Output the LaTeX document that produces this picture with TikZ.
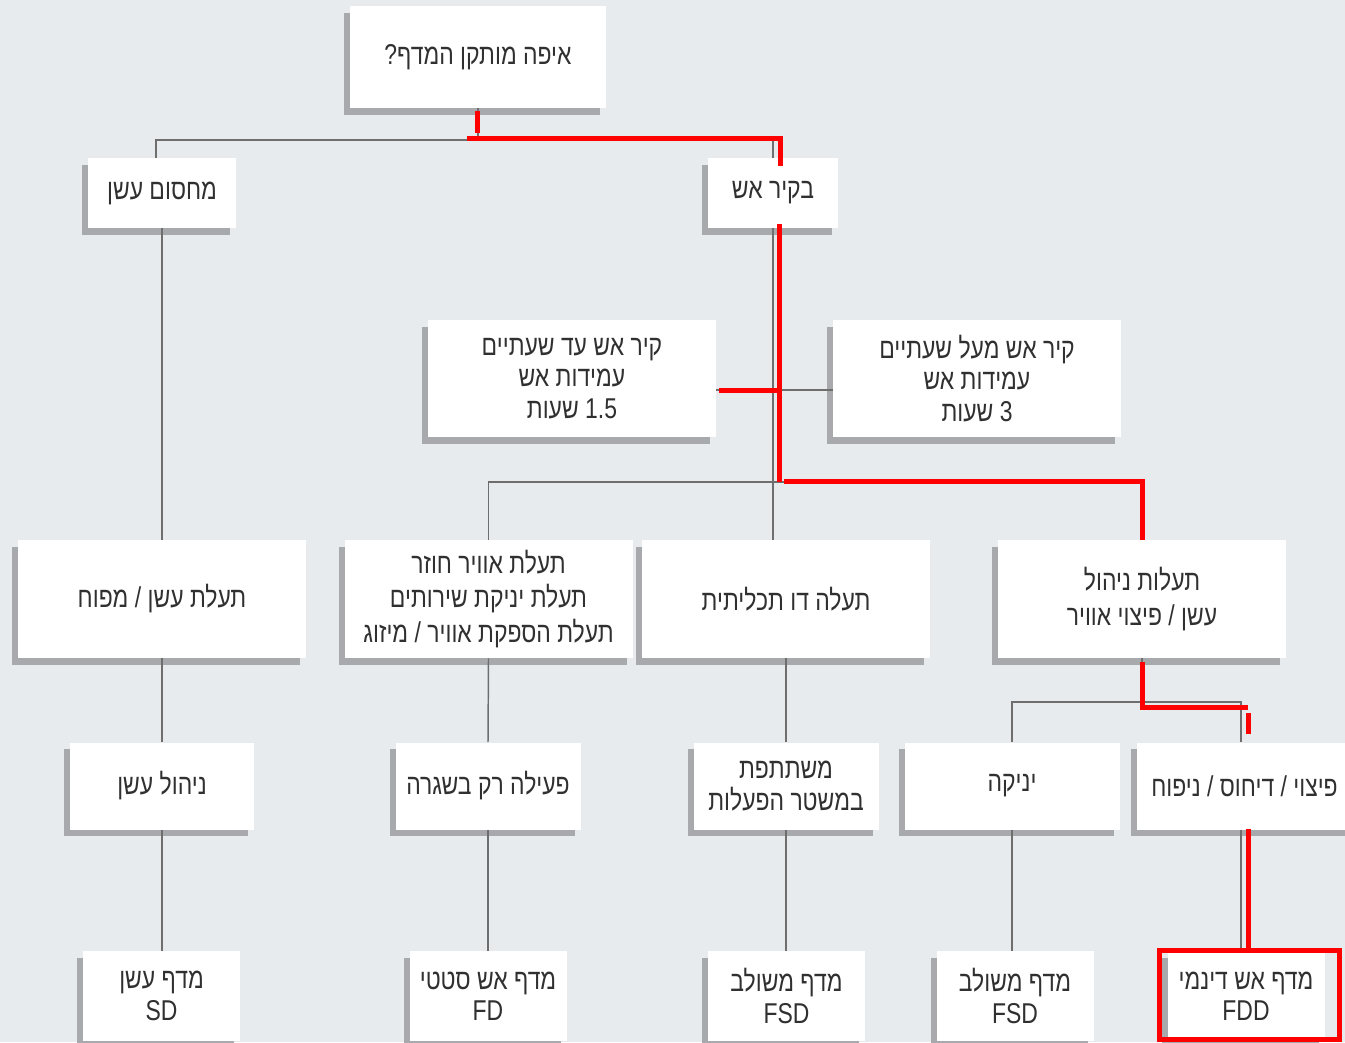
\documentclass[tikz,border=0pt]{standalone}
\usepackage{fontspec}
\usetikzlibrary{shadows}
\TeXXeTstate=1
\newfontfamily\heb[Script=Hebrew,FakeStretch=0.8]{Liberation Sans}
\newcommand\hl[1]{\beginR #1\endR}
\definecolor{bg}{HTML}{E8EBEE}
\definecolor{shd}{HTML}{A8A9AD}
\definecolor{txt}{HTML}{303030}
\definecolor{ln}{HTML}{6E6E6E}
\definecolor{hi}{HTML}{FF0000}
\begin{document}
\begin{tikzpicture}[x=0.75pt,y=-0.75pt,
  box/.style={fill=white, inner sep=0pt, align=center, text=txt,
    font=\heb\fontsize{21.5}{23.5}\selectfont,
    drop shadow={shadow xshift=-4.5pt, shadow yshift=-5pt, fill=shd, opacity=1}},
  conn/.style={draw=ln, line width=1.1pt},
  hilite/.style={draw=hi, line width=3.75pt}]
\useasboundingbox (0,0) rectangle (1345,1042);
\fill[bg] (0,0) rectangle (1345,1042);
\clip (0,0) rectangle (1345,1042);

% row 0
\node[box, minimum width=192pt, minimum height=76.5pt] (top) at (478,57) {\hl{איפה מותקן המדף?}};
% row 1
\node[box, minimum width=111pt, minimum height=52.5pt] (smk) at (162,193) {\hl{מחסום עשן}};
\node[box, minimum width=97.5pt, minimum height=52.5pt] (wall) at (773,193) {\hl{בקיר אש}};
% row 2
\node[box, minimum width=216pt, minimum height=87.75pt] (wlo) at (572,378.5)
  {\hl{קיר אש עד שעתיים}\\\hl{עמידות אש}\\\hl{1.5 שעות}};
\node[box, minimum width=216pt, minimum height=87.75pt] (whi) at (977,378.5)
  {\hl{קיר אש מעל שעתיים}\\\hl{עמידות אש}\\\hl{3 שעות}};
% row 3
\node[box, minimum width=216pt, minimum height=88.5pt] (d1) at (162,599) {\hl{תעלת עשן / מפוח}};
\node[box, minimum width=216pt, minimum height=88.5pt, font=\heb\fontsize{21.5}{26}\selectfont] (d2) at (488.5,599)
  {\hl{תעלת אוויר חוזר}\\\hl{תעלת יניקת שירותים}\\\hl{תעלת הספקת אוויר / מיזוג}};
\node[box, minimum width=216pt, minimum height=88.5pt] (d3) at (786,599) {\hl{תעלה דו תכליתית}};
\node[box, minimum width=216pt, minimum height=88.5pt, font=\heb\fontsize{21.5}{26}\selectfont] (d4) at (1142,599)
  {\hl{תעלות ניהול}\\\hl{עשן / פיצוי אוויר}};
% row 4
\node[box, minimum width=138pt, minimum height=65.25pt] (m1) at (162,786) {\hl{ניהול עשן}};
\node[box, minimum width=138.75pt, minimum height=65.25pt] (m2) at (488,786) {\hl{פעילה רק בשגרה}};
\node[box, minimum width=138.75pt, minimum height=65.25pt] (m3) at (786,786) {\hl{משתתפת}\\\hl{במשטר הפעלות}};
\node[box, minimum width=161.25pt, minimum height=65.25pt] (m4) at (1012,786) {\hl{יניקה}};
\node[box, minimum width=161.25pt, minimum height=65.25pt] (m5) at (1244.5,786) {\hl{פיצוי / דיחוס / ניפוח}};
% row 5
\node[box, minimum width=117.75pt, minimum height=67.5pt] (b1) at (161.5,996) {\hl{מדף עשן}\\SD};
\node[box, minimum width=117.75pt, minimum height=67.5pt] (b2) at (488,996) {\hl{מדף אש סטטי}\\FD};
\node[box, minimum width=117.75pt, minimum height=67.5pt] (b3) at (786.5,996) {\hl{מדף משולב}\\FSD};
\node[box, minimum width=117.75pt, minimum height=67.5pt] (b4) at (1015,996) {\hl{מדף משולב}\\FSD};
\node[box, minimum width=117.75pt, minimum height=67.5pt] (b5) at (1246,996) {\hl{מדף אש דינמי}\\FDD};

% connectors
\draw[conn] (top.south) -- (top.south |- 0,140);
\draw[conn] ([xshift=-4.5pt]smk.north) |- (wall.north |- 0,140) -- (wall.north);
\draw[conn] (smk.south) -- (d1.north);
\draw[conn] (wall.south) -- (wall.south |- d3.north);
\draw[conn] ([yshift=-8.6pt]wlo.east) -- ([yshift=-8.6pt]whi.west);
\draw[conn] (d2.north) |- (d4.north |- 0,482) -- (d4.north);
\draw[conn] (d1.south) -- (m1.north);
\draw[conn] (m1.south) -- (m1.south |- b1.north);
\draw[conn] (d2.south) -- (m2.north);
\draw[conn] (m2.south) -- (m2.south |- b2.north);
\draw[conn] (d3.south) -- (d3.south |- m3.north);
\draw[conn] (m3.south) -- (m3.south |- b3.north);
\draw[conn] (d4.south) -- (d4.south |- 0,702);
\draw[conn] (m4.north) |- ([xshift=-2.6pt]m5.north |- 0,702) -- ([xshift=-2.6pt]m5.north);
\draw[conn] (m4.south) -- (m4.south |- b4.north);
\draw[conn] ([xshift=-2.6pt]m5.south) -- ([xshift=-2.6pt]m5.south |- b5.north);

% red highlight
\draw[hilite] (477,111) -- (477,133);
\draw[hilite] (467,138) -| (780,166);
\draw[hilite] (779,224) -- (779,482);
\draw[hilite] (719,390) -- (779,390);
\draw[hilite] (784,481.5) -| (1142.5,540);
\draw[hilite] (1142.5,662) |- (1248,707.5);
\draw[hilite] (1248,713) -- (1248,734);
\draw[hilite] (1248,829) -- (1248,950);
\draw[hilite] (1159,950.5) rectangle (1339.5,1039);
\end{tikzpicture}
\end{document}
